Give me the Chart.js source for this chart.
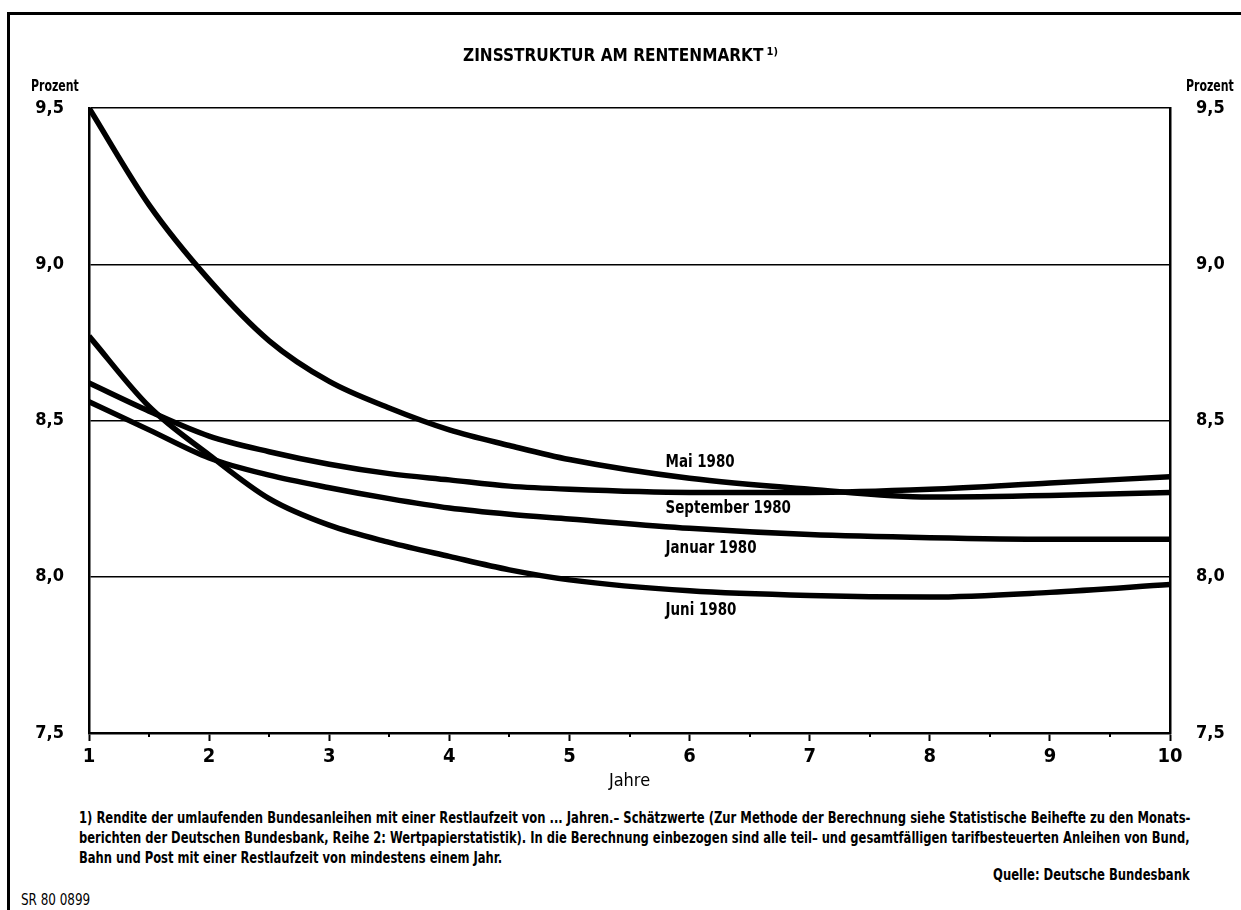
<!DOCTYPE html>
<html>
<head>
<meta charset="utf-8">
<script src="https://cdn.jsdelivr.net/npm/chart.js@4.4.1/dist/chart.umd.min.js"></script>
<style>
  body { margin: 0; background: #fff; width: 1241px; height: 910px; overflow: hidden; position: relative;
         font-family: "Liberation Sans Narrow", "DejaVu Sans Condensed", "Roboto", sans-serif; color: #000; }
  #frame { position: absolute; left: 7px; top: 12px; width: 1260px; height: 920px;
           border-left: 3px solid #000; border-top: 3px solid #000; }
  #chart { position: absolute; left: 0; top: 0; }
  .t { position: absolute; white-space: nowrap; font-weight: bold; transform-origin: 0 50%; }
  .sup { font-size: 11px; position: relative; top: -6px; margin-left: 3px; }
</style>
</head>
<body>
<div id="frame"></div>
<canvas id="chart" width="1241" height="800"></canvas>

<div class="t fit" id="title" style="left:463px;top:47px;font-size:17px;line-height:17px" data-w="315">ZINSSTRUKTUR AM RENTENMARKT<span class="sup">1)</span></div>
<div class="t fit" style="left:31px;top:78px;font-size:16px;line-height:16px" data-w="48">Prozent</div>
<div class="t fit" style="left:1186px;top:78px;font-size:16px;line-height:16px" data-w="48">Prozent</div>

<div class="t fit" id="fn1" style="left:79px;top:810px;font-size:16px;line-height:16px" data-w="1111">1) Rendite der umlaufenden Bundesanleihen mit einer Restlaufzeit von ... Jahren.– Schätzwerte (Zur Methode der Berechnung siehe Statistische Beihefte zu den Monats-</div>
<div class="t fit" id="fn2" style="left:79px;top:830px;font-size:16px;line-height:16px" data-w="1111">berichten der Deutschen Bundesbank, Reihe 2: Wertpapierstatistik). In die Berechnung einbezogen sind alle teil– und gesamtfälligen tarifbesteuerten Anleihen von Bund,</div>
<div class="t" id="fn3" style="left:79px;top:850px;font-size:16px;line-height:16px">Bahn und Post mit einer Restlaufzeit von mindestens einem Jahr.</div>
<div class="t fit" id="quelle" style="left:993px;top:867px;font-size:16px;line-height:16px" data-w="197">Quelle: Deutsche Bundesbank</div>
<div class="t fit" style="left:21px;top:892px;font-size:16px;line-height:16px;font-weight:normal" data-w="69">SR 80 0899</div>

<script>
// Restlaufzeit in Jahren
const maturities = [1, 1.5, 2, 2.5, 3, 3.5, 4, 4.5, 5, 6, 7, 8, 9, 10];

// Rendite in Prozent
const mai1980       = [9.50, 9.19, 8.95, 8.755, 8.625, 8.54, 8.47, 8.42, 8.375, 8.315, 8.28, 8.255, 8.26, 8.27];
const september1980 = [8.62, 8.53, 8.45, 8.40, 8.36, 8.33, 8.31, 8.29, 8.28, 8.27, 8.27, 8.28, 8.30, 8.32];
const januar1980    = [8.56, 8.47, 8.38, 8.325, 8.285, 8.25, 8.22, 8.20, 8.185, 8.155, 8.135, 8.125, 8.12, 8.12];
const juni1980      = [8.77, 8.545, 8.39, 8.25, 8.165, 8.11, 8.065, 8.022, 7.99, 7.955, 7.94, 7.935, 7.95, 7.975];

const seriesNames = ['Mai 1980', 'September 1980', 'Januar 1980', 'Juni 1980'];

const xTickValues = [1, 2, 3, 4, 5, 6, 7, 8, 9, 10];
const xTickLabels = ['1', '2', '3', '4', '5', '6', '7', '8', '9', '10'];
const xMinorTicks = [1.5, 2.5, 3.5, 4.5, 5.5, 6.5, 7.5, 8.5, 9.5];
const yTickValues = [7.5, 8.0, 8.5, 9.0, 9.5];
const yTickLabels = ['7,5', '8,0', '8,5', '9,0', '9,5'];

// where the series names sit (in data units)
const labelAnchorX = [5.8, 5.8, 5.8, 5.8];
const labelAnchorY = [8.367, 8.22, 8.092, 7.894];

const FONT = '"Liberation Sans Narrow", "DejaVu Sans Condensed", "Roboto", sans-serif';

function toPoints(values) {
  return values.map(function (v, i) { return { x: maturities[i], y: v }; });
}

function lineSet(name, values) {
  return {
    label: name,
    data: toPoints(values),
    borderColor: '#000',
    borderWidth: 5.5,
    pointRadius: 0,
    fill: false,
    cubicInterpolationMode: 'monotone'
  };
}

// small half-year ticks and the curve names
const extras = {
  id: 'extras',
  afterDraw: function (chart) {
    const ctx = chart.ctx;
    const xs = chart.scales.x, ys = chart.scales.y;
    ctx.save();
    ctx.strokeStyle = '#000';
    ctx.lineWidth = 2;
    xMinorTicks.forEach(function (v) {
      const px = Math.round(xs.getPixelForValue(v));
      ctx.beginPath();
      ctx.moveTo(px, xs.top);
      ctx.lineTo(px, xs.top + 4);
      ctx.stroke();
    });
    ctx.fillStyle = '#000';
    ctx.font = 'bold 18px ' + FONT;
    ctx.textAlign = 'left';
    ctx.textBaseline = 'middle';
    seriesNames.forEach(function (n, i) {
      const px = xs.getPixelForValue(labelAnchorX[i]);
      const py = ys.getPixelForValue(labelAnchorY[i]);
      ctx.save();
      ctx.translate(px, py);
      ctx.scale(0.83, 1);   // print face is narrower
      ctx.fillText(n, 0, 0);
      ctx.restore();
    });
    ctx.restore();
  }
};

new Chart(document.getElementById('chart'), {
  type: 'line',
  data: {
    datasets: [
      lineSet(seriesNames[0], mai1980),
      lineSet(seriesNames[1], september1980),
      lineSet(seriesNames[2], januar1980),
      lineSet(seriesNames[3], juni1980)
    ]
  },
  options: {
    responsive: false,
    animation: false,
    layout: { padding: { top: 108, left: 0, right: 0, bottom: 0 } },
    plugins: { legend: { display: false }, tooltip: { enabled: false }, title: { display: false } },
    scales: {
      x: {
        type: 'linear', min: 1, max: 10,
        afterFit: function (s) { s.height = 67; },
        afterBuildTicks: function (s) { s.ticks = xTickValues.map(function (v) { return { value: v }; }); },
        ticks: {
          color: '#000', padding: 4, maxRotation: 0, autoSkip: false,
          font: { family: FONT, size: 20, weight: 'bold' },
          callback: function (v) { return xTickLabels[xTickValues.indexOf(v)]; }
        },
        grid: { drawOnChartArea: false, drawTicks: true, tickLength: 8, tickColor: '#000', tickWidth: 2 },
        border: { color: '#000', width: 2.5 },
        title: { display: true, text: 'Jahre', color: '#000',
                 font: { family: FONT, size: 18 }, padding: { top: 0, bottom: 8 } }
      },
      y: {
        position: 'left', min: 7.5, max: 9.5,
        afterFit: function (s) { s.width = 89; },
        afterBuildTicks: function (s) { s.ticks = yTickValues.map(function (v) { return { value: v }; }); },
        ticks: {
          color: '#000', padding: 25,
          font: { family: FONT, size: 18, weight: 'bold' },
          callback: function (v) { return yTickLabels[yTickValues.indexOf(v)]; }
        },
        grid: { color: '#000', lineWidth: 1.5, drawTicks: false },
        border: { color: '#000', width: 2.5 }
      },
      y2: {
        position: 'right', min: 7.5, max: 9.5,
        afterFit: function (s) { s.width = 71; },
        afterBuildTicks: function (s) { s.ticks = yTickValues.map(function (v) { return { value: v }; }); },
        ticks: {
          color: '#000', padding: 26,
          font: { family: FONT, size: 18, weight: 'bold' },
          callback: function (v) { return yTickLabels[yTickValues.indexOf(v)]; }
        },
        grid: { drawOnChartArea: false, drawTicks: false },
        border: { color: '#000', width: 2.5 }
      }
    }
  },
  plugins: [extras]
});

// stretch text lines to the widths they have in the print
var scale2 = 1;
document.querySelectorAll('.fit').forEach(function (el) {
  var k = parseFloat(el.dataset.w) / el.offsetWidth;
  el.style.transform = 'scaleX(' + k + ')';
  if (el.id === 'fn2') scale2 = k;
});
document.getElementById('fn3').style.transform = 'scaleX(' + scale2 + ')';
</script>
</body>
</html>
